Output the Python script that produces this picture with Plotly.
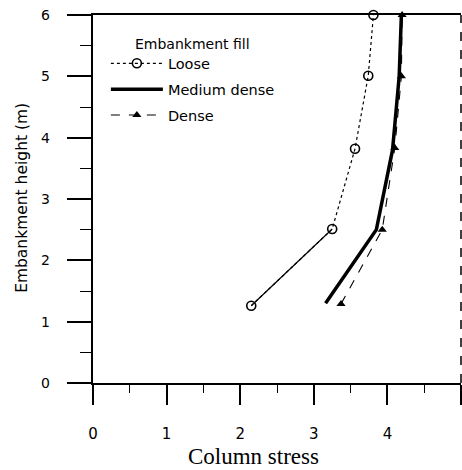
import plotly.graph_objects as go

# Column stress vs embankment height for three fill densities
loose_stress = [2.15, 3.25, 3.56, 3.74, 3.81]
loose_height = [1.26, 2.51, 3.82, 5.01, 6.0]

medium_stress = [3.16, 3.85, 4.07, 4.16, 4.19]
medium_height = [1.3, 2.5, 3.8, 5.0, 6.0]

dense_stress = [3.37, 3.93, 4.1, 4.19, 4.2]
dense_height = [1.29, 2.5, 3.83, 5.0, 6.0]

x_ticks = [0, 1, 2, 3, 4, 5]
y_ticks = [0, 1, 2, 3, 4, 5, 6]

SANS = "DejaVu Sans"

fig = go.Figure()

# lower segment of the loose curve is drawn solid
fig.add_trace(go.Scatter(
    x=loose_stress[:2], y=loose_height[:2], mode="lines",
    line=dict(color="black", width=1.2), showlegend=False,
    hoverinfo="skip", cliponaxis=False))

fig.add_trace(go.Scatter(
    x=loose_stress, y=loose_height, mode="lines+markers", name="Loose",
    legendgroup="loose",
    line=dict(color="black", width=1.2, dash="dot"),
    marker=dict(symbol="circle-open", size=9, color="black",
                line=dict(width=1.6, color="black")),
    cliponaxis=False))

fig.add_trace(go.Scatter(
    x=medium_stress, y=medium_height, mode="lines", name="Medium dense",
    legendgroup="medium",
    line=dict(color="black", width=3.5), cliponaxis=False))

fig.add_trace(go.Scatter(
    x=dense_stress, y=dense_height, mode="lines+markers", name="Dense",
    legendgroup="dense",
    line=dict(color="black", width=1.1, dash="dash"),
    marker=dict(symbol="triangle-up", size=8, color="black"),
    cliponaxis=False))

# height labels sit well clear of the long outside ticks
y_labels = [
    dict(text=str(v), xref="paper", yref="y", x=-0.112, y=v,
         xanchor="right", yanchor="middle", showarrow=False,
         font=dict(family=SANS, size=14))
    for v in y_ticks
]

fig.update_layout(
    width=462, height=470,
    margin=dict(l=93, r=1, t=15, b=87),
    paper_bgcolor="white", plot_bgcolor="white",
    font=dict(family=SANS, size=13, color="black"),
    showlegend=True,
    legend=dict(x=0.035, y=0.912, xanchor="left", yanchor="top",
                bgcolor="rgba(0,0,0,0)", font=dict(family=SANS, size=14.5),
                tracegroupgap=4, itemwidth=52),
    xaxis=dict(
        range=[0, 5], tickvals=x_ticks, ticktext=[str(v) for v in x_ticks],
        showgrid=False, zeroline=False,
        showline=True, linecolor="black", linewidth=2, mirror=True,
        ticks="outside", ticklen=20, tickwidth=1.5, tickcolor="black",
        ticklabelstandoff=16,
        minor=dict(dtick=0.5, ticks="outside", ticklen=8, tickwidth=1.2,
                   tickcolor="black"),
        tickfont=dict(family=SANS, size=15),
    ),
    yaxis=dict(
        range=[0, 6], tickvals=y_ticks, showticklabels=False,
        showgrid=False, zeroline=False,
        showline=True, linecolor="black", linewidth=2,
        ticks="outside", ticklen=24, tickwidth=1.5, tickcolor="black",
        minor=dict(dtick=0.5, ticks="outside", ticklen=11, tickwidth=1.2,
                   tickcolor="black"),
    ),
    annotations=y_labels + [
        dict(text="Embankment height (m)", xref="paper", yref="paper",
             x=-0.193, y=0.503, xanchor="center", yanchor="middle",
             textangle=-90, showarrow=False,
             font=dict(family=SANS, size=15.5)),
        dict(text="Embankment fill", xref="paper", yref="paper",
             x=0.11, y=0.92, xanchor="left", yanchor="middle",
             showarrow=False, font=dict(family=SANS, size=14)),
        dict(text="Column stress", xref="paper", yref="paper",
             x=0.435, y=-0.2, xanchor="center", yanchor="middle",
             showarrow=False, font=dict(family="Liberation Serif", size=23)),
    ],
)

# dashed right-hand edge of the frame
fig.add_shape(type="line", xref="x domain", yref="y domain",
              x0=1, x1=1, y0=0, y1=1,
              line=dict(color="black", width=1.5, dash="dash"))

fig.write_html("out.html")
